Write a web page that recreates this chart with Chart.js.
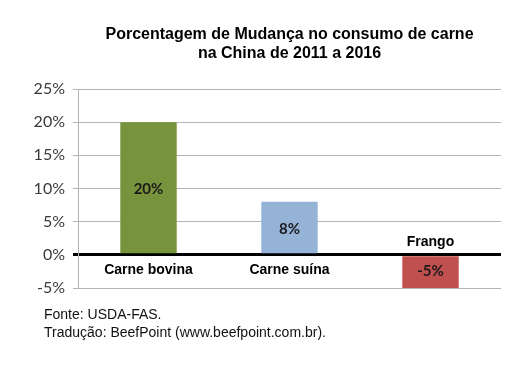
<!DOCTYPE html>
<html>
<head>
<meta charset="utf-8">
<script src="https://cdn.jsdelivr.net/npm/chart.js@4/dist/chart.umd.min.js"></script>
<style>
  body { margin: 0; background: #fff; }
  #wrap { position: relative; width: 528px; height: 372px; }
  #title { position: absolute; left: 70px; width: 439px; top: 24px; text-align: center;
    font: bold 16px "Liberation Sans", Arial, sans-serif; line-height: 19px; color: #000; }
  #source { position: absolute; left: 44px; top: 305px;
    font: 14px "Liberation Sans", Arial, sans-serif; line-height: 18px; color: #111; }
</style>
</head>
<body>
<div id="wrap">
  <canvas id="meatChart" width="528" height="372"></canvas>
  <div id="title">Porcentagem de Mudança no consumo de carne<br>na China de 2011 a 2016</div>
  <div id="source">Fonte: USDA-FAS.<br>Tradução: BeefPoint (www.beefpoint.com.br).</div>
</div>
<script>
const categories = ['Carne bovina', 'Carne suína', 'Frango'];
const changeValues = [20, 8, -5];
const barColors = ['#77933c', '#95b3d7', '#c0504d'];
const tickValues = [-5, 0, 5, 10, 15, 20, 25];

// category names sit under the zero line, or above it for negative bars
const labelsPlugin = {
    id: 'barLabels',
    afterDatasetsDraw(chart) {
        const ctx = chart.ctx;
        const meta = chart.getDatasetMeta(0);
        const y = chart.scales.y;
        const zeroY = y.getPixelForValue(0);
        ctx.save();
        ctx.textAlign = 'center';
        ctx.textBaseline = 'middle';
        meta.data.forEach((bar, i) => {
            const v = changeValues[i];
            ctx.font = 'bold 15px Lato, sans-serif';
            ctx.fillStyle = '#1a1a1a';
            ctx.fillText(v + '%', bar.x, (bar.y + zeroY) / 2 + (v < 0 ? 0 : 1));
            ctx.font = 'bold 14px "Liberation Sans", Arial, sans-serif';
            ctx.fillStyle = '#000';
            const ly = v < 0 ? zeroY - 13 : zeroY + 15;
            ctx.fillText(categories[i], bar.x, ly);
        });
        ctx.restore();
    }
};

new Chart(document.getElementById('meatChart'), {
    type: 'bar',
    data: {
        labels: categories,
        datasets: [{
            data: changeValues,
            backgroundColor: barColors,
            borderWidth: 0,
            barPercentage: 0.4,
            categoryPercentage: 1
        }]
    },
    options: {
        responsive: false,
        animation: false,
        layout: { padding: { top: 89, right: 27, bottom: 84, left: 0 } },
        plugins: { legend: { display: false }, tooltip: { enabled: false } },
        scales: {
            x: { display: false },
            y: {
                min: -5,
                max: 25,
                afterFit(scale) { scale.width = 78; },
                afterBuildTicks(scale) { scale.ticks = tickValues.map(v => ({ value: v })); },
                border: { display: true, color: '#b4b4b4', width: 1 },
                grid: {
                    color: ctx => ctx.tick && ctx.tick.value === 0 ? '#000' : '#b4b4b4',
                    lineWidth: ctx => ctx.tick && ctx.tick.value === 0 ? 3 : 1,
                    tickLength: 5,
                    drawTicks: true
                },
                ticks: {
                    padding: 8,
                    color: '#3a3a3a',
                    font: { family: 'Lato, sans-serif', size: 16 },
                    callback: v => v + '%'
                }
            }
        }
    },
    plugins: [labelsPlugin]
});
</script>
</body>
</html>
